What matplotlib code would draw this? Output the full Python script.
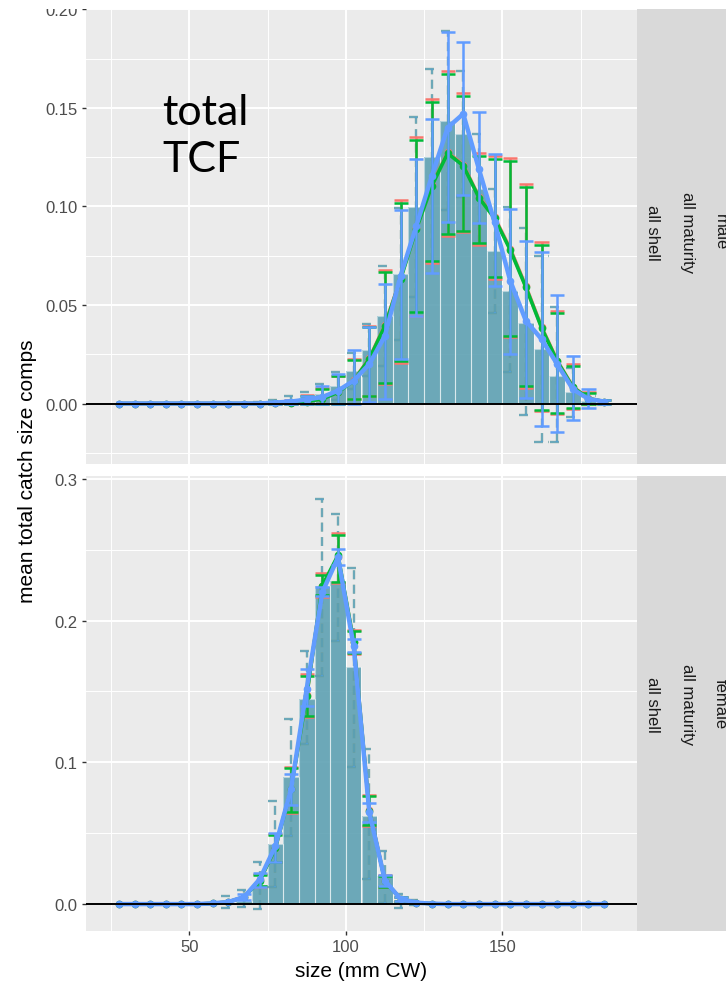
import numpy as np
import matplotlib
matplotlib.use("Agg")
import matplotlib.pyplot as plt
from matplotlib.patches import Rectangle

plt.rcParams["font.family"] = ["Liberation Sans", "DejaVu Sans"]

W, H = 726, 987

# size bin centres (mm CW)
sizes = [27.5, 32.5, 37.5, 42.5, 47.5, 52.5, 57.5, 62.5, 67.5, 72.5, 77.5,
         82.5, 87.5, 92.5, 97.5, 102.5, 107.5, 112.5, 117.5, 122.5, 127.5,
         132.5, 137.5, 142.5, 147.5, 152.5, 157.5, 162.5, 167.5, 172.5,
         177.5, 182.5]

# ---- male: observed comps and their CIs
male_obs = [0.0] * 9 + [0.0005, 0.001, 0.002, 0.003, 0.005, 0.009, 0.0167, 0.027,
                        0.0446, 0.0657, 0.0995, 0.125, 0.1436, 0.1368, 0.109,
                        0.0776, 0.0573, 0.041, 0.0277, 0.0141, 0.0057, 0.0012, 0.0]
male_obs_lo = [0.0] * 14 + [0.002, 0.0076, 0.014, 0.019, 0.032, 0.054, 0.0718,
                            0.098, 0.105, 0.081, 0.046, 0.016, -0.006, -0.0196,
                            -0.0196, -0.007, -0.001, 0.0]
male_obs_hi = [0.0] * 9 + [0.001, 0.002, 0.004, 0.006, 0.010, 0.016, 0.0258, 0.0405,
                           0.070, 0.099, 0.1453, 0.1698, 0.189, 0.169, 0.137,
                           0.109, 0.0997, 0.089, 0.075, 0.049, 0.018, 0.004, 0.0]

# ---- male: model fits (red, green, blue cases)
male_red = [0.0] * 10 + [0.0002, 0.0005, 0.001, 0.0024, 0.0058, 0.0118, 0.0229,
                         0.0399, 0.0636, 0.0889, 0.1109, 0.1274, 0.1212, 0.1049,
                         0.0945, 0.0786, 0.0595, 0.0389, 0.0218, 0.0085, 0.0026, 0.001]
male_red_lo = [0.0] * 15 + [0.0021, 0.0036, 0.0098, 0.0208, 0.0445, 0.0712, 0.0848,
                            0.0871, 0.0806, 0.0632, 0.0338, 0.0081, -0.0037,
                            -0.0052, -0.0028, -0.0005, 0.0]
male_red_hi = [0.0] * 10 + [0.0006, 0.0017, 0.0043, 0.0078, 0.0142, 0.0228, 0.0395,
                            0.0678, 0.1031, 0.1352, 0.1546, 0.1687, 0.1578, 0.1273,
                            0.1255, 0.1246, 0.1113, 0.0822, 0.0472, 0.0198, 0.0056, 0.002]

male_green = [0.0] * 10 + [0.0002, 0.0005, 0.001, 0.0023, 0.0057, 0.0116, 0.0226,
                           0.0395, 0.0632, 0.0886, 0.1106, 0.127, 0.1207, 0.1045,
                           0.094, 0.078, 0.059, 0.0385, 0.0215, 0.0083, 0.0025, 0.001]
male_green_lo = [0.0] * 15 + [0.0023, 0.004, 0.0104, 0.0217, 0.0463, 0.0725, 0.086,
                              0.0877, 0.0815, 0.064, 0.0344, 0.0087, -0.0031,
                              -0.0048, -0.0025, -0.0003, 0.0]
male_green_hi = [0.0] * 10 + [0.0005, 0.0015, 0.004, 0.0074, 0.0138, 0.0222, 0.0387,
                              0.0666, 0.1016, 0.1339, 0.1529, 0.167, 0.156, 0.1258,
                              0.124, 0.123, 0.1097, 0.0806, 0.046, 0.0192, 0.0053, 0.002]

male_blue = [0.0] * 10 + [0.0005, 0.001, 0.002, 0.0033, 0.0065, 0.0116, 0.020,
                          0.0344, 0.0649, 0.090, 0.1156, 0.140, 0.147, 0.119,
                          0.092, 0.0623, 0.042, 0.0327, 0.020, 0.0073, 0.0023, 0.001]
male_blue_lo = [0.0] * 16 + [0.001, 0.0023, 0.0226, 0.0446, 0.0662, 0.0919, 0.1058,
                             0.0916, 0.0598, 0.0251, 0.003, -0.0113, -0.0146,
                             -0.0082, -0.0023, 0.0]
male_blue_hi = [0.0] * 10 + [0.001, 0.002, 0.004, 0.0088, 0.015, 0.027, 0.039,
                             0.0607, 0.098, 0.124, 0.1444, 0.1884, 0.1835, 0.148,
                             0.1266, 0.0987, 0.0827, 0.0768, 0.055, 0.0243, 0.0074, 0.002]

# ---- female: observed comps and their CIs
female_obs = [0.0] * 8 + [0.002, 0.0134, 0.0423, 0.0894, 0.145, 0.2247, 0.228,
                          0.167, 0.0623, 0.020, 0.002] + [0.0] * 13
female_obs_lo = [0.0] * 7 + [-0.003, -0.002, -0.0035, 0.0118, 0.048, 0.1129, 0.1612,
                             0.1858, 0.0965, 0.0176, 0.001, -0.003, -0.001] + [0.0] * 12
female_obs_hi = [0.0] * 7 + [0.006, 0.010, 0.0299, 0.0729, 0.1306, 0.1788, 0.2858,
                             0.2752, 0.2369, 0.1094, 0.0376, 0.007, 0.003] + [0.0] * 12

# ---- female: model fits
female_red = [0.0] * 6 + [0.0005, 0.0015, 0.0051, 0.0168, 0.0398, 0.0815, 0.1474,
                          0.2243, 0.2452, 0.1848, 0.0664, 0.0162, 0.0036, 0.001,
                          0.0003] + [0.0] * 11
female_red_lo = [0.0] * 9 + [0.0122, 0.0296, 0.0642, 0.1318, 0.2168, 0.2262, 0.1762,
                             0.0551, 0.0117, 0.0019] + [0.0] * 13
female_red_hi = [0.0] * 9 + [0.0209, 0.0495, 0.0968, 0.1623, 0.2334, 0.2616, 0.1934,
                             0.0772, 0.0204, 0.0052] + [0.0] * 13

female_green = [0.0] * 6 + [0.0005, 0.0015, 0.005, 0.0165, 0.0395, 0.081, 0.147,
                            0.2247, 0.246, 0.185, 0.066, 0.016, 0.0035, 0.001,
                            0.0003] + [0.0] * 11
female_green_lo = [0.0] * 9 + [0.0125, 0.030, 0.065, 0.133, 0.218, 0.227, 0.177,
                               0.0557, 0.012, 0.002] + [0.0] * 13
female_green_hi = [0.0] * 9 + [0.0205, 0.049, 0.096, 0.161, 0.232, 0.2604, 0.1925,
                               0.0765, 0.020, 0.005] + [0.0] * 13

female_blue = [0.0] * 6 + [0.0005, 0.0015, 0.005, 0.0176, 0.041, 0.081, 0.152,
                           0.220, 0.2446, 0.182, 0.0647, 0.0165, 0.0035, 0.001,
                           0.0003] + [0.0] * 11
female_blue_lo = [0.0] * 8 + [0.003, 0.012, 0.030, 0.070, 0.140, 0.2171, 0.239,
                              0.1775, 0.058, 0.0125, 0.002] + [0.0] * 13
female_blue_hi = [0.0] * 8 + [0.007, 0.022, 0.050, 0.092, 0.166, 0.2235, 0.2502,
                              0.1871, 0.071, 0.0205, 0.005] + [0.0] * 13

strip_male = ["male", "all maturity", "all shell"]
strip_female = ["female", "all maturity", "all shell"]

RED, GREEN, BLUE = "#F8766D", "#00BA38", "#619CFF"
DASH = (0, (4, 2.5))


def px(x0, y0, x1, y1):
    # pixel box with top-left origin -> figure fraction rect
    return [x0 / W, 1 - y1 / H, (x1 - x0) / W, (y1 - y0) / H]


def errbars(ax, lo, hi, color, lw=1.5, ls="-", alpha=1.0, hw=2.25, z=3):
    x = np.asarray(sizes)
    lo = np.asarray(lo)
    hi = np.asarray(hi)
    keep = hi > lo
    x, lo, hi = x[keep], lo[keep], hi[keep]
    kw = dict(colors=color, linewidths=lw, linestyles=ls, alpha=alpha, zorder=z)
    ax.vlines(x, lo, hi, **kw)
    ax.hlines(lo, x - hw, x + hw, **kw)
    ax.hlines(hi, x - hw, x + hw, **kw)


def panel(ax, obs, obs_lo, obs_hi, fits, ylim, major, labels, minor, xlabels):
    ax.set_facecolor("#EBEBEB")
    for col in (RED, GREEN, BLUE):
        ax.bar(sizes, obs, width=5, color=col, alpha=0.5, linewidth=0, zorder=2)
    ax.bar(sizes, obs, width=5, facecolor="none", edgecolor=(1, 1, 1, 0.5),
           linewidth=0.8, zorder=2.1)
    for col in (RED, GREEN, BLUE):
        errbars(ax, obs_lo, obs_hi, col, lw=1.6, ls=DASH, alpha=0.5, z=3)
    for col, fit, lo, hi, lw in fits:
        ax.plot(sizes, fit, color=col, lw=lw, zorder=4)
        errbars(ax, lo, hi, col, lw=1.8, z=4)
        ax.plot(sizes, fit, "o", color=col, ms=4.5, zorder=4)
    ax.axhline(0, color="black", lw=1.4, zorder=5)

    ax.set_xlim(17, 193)
    ax.set_ylim(*ylim)
    ax.set_xticks([50, 100, 150])
    ax.set_xticks([25, 75, 125, 175], minor=True)
    ax.set_yticks(major, labels)
    ax.set_yticks(minor, minor=True)
    ax.set_axisbelow(True)
    ax.grid(which="major", color="white", lw=1.4)
    ax.grid(which="minor", color="white", lw=0.7)
    for s in ax.spines.values():
        s.set_visible(False)
    ax.tick_params(which="major", length=3, width=1, color="#333333",
                   labelsize=12, labelcolor="#4D4D4D", pad=3)
    ax.tick_params(which="minor", length=0)
    if not xlabels:
        ax.tick_params(axis="x", which="major", length=0, labelbottom=False)


def strip(rect, lines):
    sax = fig.add_axes(rect)
    sax.set_facecolor("#D9D9D9")
    sax.set_xticks([])
    sax.set_yticks([])
    for s in sax.spines.values():
        s.set_visible(False)
    ymid = rect[1] + rect[3] / 2
    for xpx, txt in zip([720, 687, 653], lines):
        fig.text(xpx / W, ymid, txt, rotation=-90, ha="center", va="center",
                 fontsize=12, color="#1A1A1A")


fig = plt.figure(figsize=(W / 100, H / 100), dpi=100)

ax1 = fig.add_axes(px(86, 0, 637, 465))
panel(ax1, male_obs, male_obs_lo, male_obs_hi,
      [(RED, male_red, male_red_lo, male_red_hi, 2.6),
       (GREEN, male_green, male_green_lo, male_green_hi, 2.6),
       (BLUE, male_blue, male_blue_lo, male_blue_hi, 3.2)],
      (-0.0307, 0.2053), [0, 0.05, 0.10, 0.15, 0.20],
      ["0.00", "0.05", "0.10", "0.15", "0.20"],
      [-0.025, 0.025, 0.075, 0.125, 0.175], False)

ax2 = fig.add_axes(px(86, 477, 637, 932))
panel(ax2, female_obs, female_obs_lo, female_obs_hi,
      [(RED, female_red, female_red_lo, female_red_hi, 2.6),
       (GREEN, female_green, female_green_lo, female_green_hi, 2.6),
       (BLUE, female_blue, female_blue_lo, female_blue_hi, 3.2)],
      (-0.019, 0.302), [0, 0.1, 0.2, 0.3], ["0.0", "0.1", "0.2", "0.3"],
      [0.05, 0.15, 0.25], True)

strip(px(637, 0, 740, 465), strip_male)
strip(px(637, 477, 740, 932), strip_female)

fig.text(28 / W, 1 - 471 / H, "mean total catch size comps", rotation=90,
         ha="center", va="center", fontsize=15, color="black")
fig.text(361.5 / W, 1 - 972 / H, "size (mm CW)", ha="center", va="center",
         fontsize=15, color="black")

# overlay label
fig.text(162 / W, 1 - 125 / H, "total", ha="left", va="baseline",
         fontsize=31, family=["Lato", "DejaVu Sans"], color="black")
fig.text(162 / W, 1 - 172 / H, "TCF", ha="left", va="baseline",
         fontsize=31, family=["Lato", "DejaVu Sans"], color="black")

# white band across the top of the image
fig.add_artist(Rectangle((0, 1 - 10 / H), 1, 10 / H, transform=fig.transFigure,
                         facecolor="white", edgecolor="none", zorder=10))

fig.savefig("out.png", dpi=100)
